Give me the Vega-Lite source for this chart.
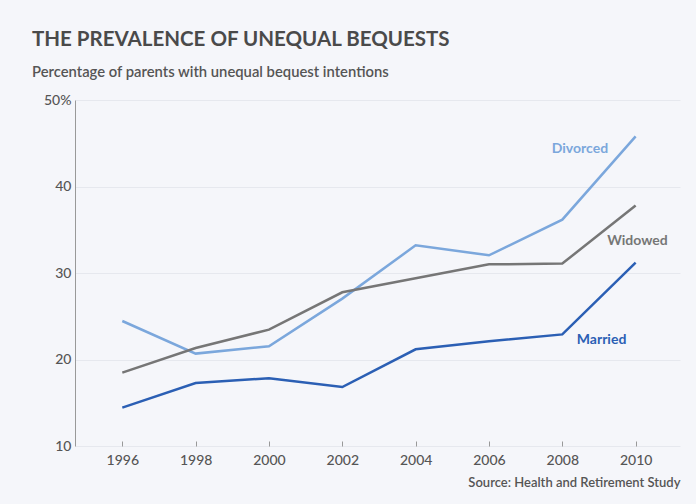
{
  "$schema": "https://vega.github.io/schema/vega-lite/v6.json",
  "width": 605,
  "height": 346,
  "autosize": {"type": "none"},
  "padding": {"left": 75, "top": 100, "right": 16, "bottom": 58},
  "background": "#f5f6fa",
  "title": {
    "text": "THE PREVALENCE OF UNEQUAL BEQUESTS",
    "subtitle": "Percentage of parents with unequal bequest intentions",
    "anchor": "start",
    "frame": "group",
    "dx": -43,
    "offset": 13,
    "font": "Lato",
    "fontSize": 20.5,
    "fontWeight": "bold",
    "color": "#4a4a4a",
    "subtitleFont": "Lato",
    "subtitleFontSize": 14.8,
    "subtitleFontWeight": 600,
    "subtitleColor": "#555555",
    "subtitlePadding": 15
  },
  "config": {
    "view": {"stroke": null},
    "font": "Lato"
  },
  "datasets": {
    "series": [
      {"year": 1996, "value": 24.45, "status": "Divorced"},
      {"year": 1998, "value": 20.68, "status": "Divorced"},
      {"year": 2000, "value": 21.53, "status": "Divorced"},
      {"year": 2002, "value": 27.04, "status": "Divorced"},
      {"year": 2004, "value": 33.2, "status": "Divorced"},
      {"year": 2006, "value": 32.05, "status": "Divorced"},
      {"year": 2008, "value": 36.17, "status": "Divorced"},
      {"year": 2010, "value": 45.8, "status": "Divorced"},
      {"year": 1996, "value": 18.48, "status": "Widowed"},
      {"year": 1998, "value": 21.33, "status": "Widowed"},
      {"year": 2000, "value": 23.45, "status": "Widowed"},
      {"year": 2002, "value": 27.77, "status": "Widowed"},
      {"year": 2004, "value": 29.4, "status": "Widowed"},
      {"year": 2006, "value": 31.0, "status": "Widowed"},
      {"year": 2008, "value": 31.09, "status": "Widowed"},
      {"year": 2010, "value": 37.8, "status": "Widowed"},
      {"year": 1996, "value": 14.44, "status": "Married"},
      {"year": 1998, "value": 17.28, "status": "Married"},
      {"year": 2000, "value": 17.83, "status": "Married"},
      {"year": 2002, "value": 16.82, "status": "Married"},
      {"year": 2004, "value": 21.18, "status": "Married"},
      {"year": 2006, "value": 22.1, "status": "Married"},
      {"year": 2008, "value": 22.9, "status": "Married"},
      {"year": 2010, "value": 31.2, "status": "Married"}
    ],
    "labels": [
      {"year": 2008.48, "value": 44.3, "status": "Divorced"},
      {"year": 2010.05, "value": 33.67, "status": "Widowed"},
      {"year": 2009.07, "value": 22.2, "status": "Married"}
    ]
  },
  "encoding": {
    "x": {
      "field": "year",
      "type": "quantitative",
      "scale": {"domain": [1994.71, 2011.21], "nice": false, "zero": false},
      "axis": {
        "values": [1996, 1998, 2000, 2002, 2004, 2006, 2008, 2010],
        "format": "d",
        "grid": false,
        "domain": false,
        "ticks": true,
        "tickSize": -5,
        "tickColor": "#999999",
        "labelPadding": 12,
        "labelFont": "Lato",
        "labelFontSize": 14,
        "labelColor": "#555555",
        "labelFontWeight": 500,
        "title": "Source: Health and Retirement Study",
        "titleAnchor": "end",
        "titleFont": "Lato",
        "titleFontSize": 13,
        "titleFontWeight": 600,
        "titleColor": "#555555",
        "titlePadding": 9
      }
    },
    "y": {
      "field": "value",
      "type": "quantitative",
      "scale": {"domain": [10, 50], "nice": false, "zero": false},
      "axis": {
        "values": [10, 20, 30, 40, 50],
        "labelExpr": "datum.value == 50 ? '50%' : datum.label",
        "grid": true,
        "gridColor": "#e6e8ee",
        "domain": true,
        "domainColor": "#999999",
        "ticks": false,
        "labelPadding": 4,
        "labelFont": "Lato",
        "labelFontSize": 14,
        "labelColor": "#555555",
        "labelFontWeight": 500,
        "title": null
      }
    },
    "color": {
      "field": "status",
      "type": "nominal",
      "scale": {"domain": ["Divorced", "Widowed", "Married"], "range": ["#7ba7dc", "#767676", "#2b5fb4"]},
      "legend": null
    }
  },
  "layer": [
    {
      "data": {"name": "series"},
      "mark": {"type": "line", "strokeWidth": 2.5}
    },
    {
      "data": {"name": "labels"},
      "mark": {"type": "text", "font": "Lato", "fontSize": 14, "fontWeight": "bold", "align": "center", "baseline": "middle"},
      "encoding": {"text": {"field": "status"}}
    }
  ]
}
